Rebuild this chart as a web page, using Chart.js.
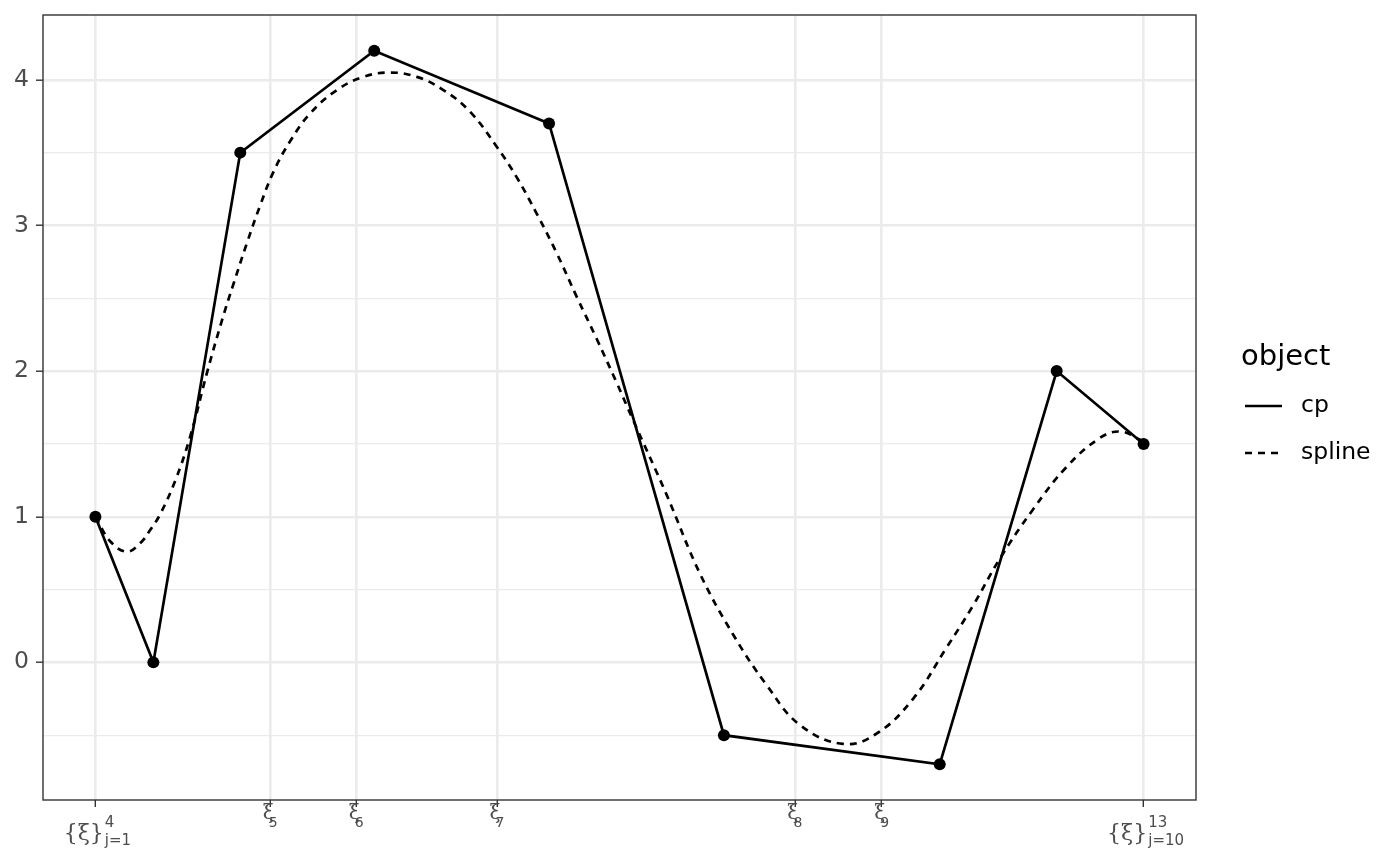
<!DOCTYPE html>
<html>
<head>
<meta charset="utf-8">
<script src="https://cdn.jsdelivr.net/npm/chart.js@4.4.1/dist/chart.umd.min.js"></script>
<style>
  html, body { margin: 0; padding: 0; background: #fff; }
  #wrap { width: 1400px; height: 866px; }
</style>
</head>
<body>
<div id="wrap"><canvas id="chart" width="1400" height="866"></canvas></div>
<script>
// control polygon
const cpX = [0, 0.0553, 0.1382, 0.2660, 0.4328, 0.5996, 0.8055, 0.9171, 1];
const cpY = [1, 0, 3.5, 4.2, 3.7, -0.5, -0.7, 2, 1.5];

// spline curve
const splineX = [0, 0.0143, 0.0302, 0.0429, 0.0524, 0.0620, 0.0763, 0.0906, 0.1065, 0.1208,
  0.1318, 0.1446, 0.1573, 0.1700, 0.1859, 0.2050, 0.2304, 0.2558, 0.2812, 0.3067,
  0.3320, 0.3575, 0.3829, 0.4020, 0.4211, 0.4401, 0.4592, 0.4783, 0.4973, 0.5132,
  0.5450, 0.5767, 0.6085, 0.6403, 0.6721, 0.7133, 0.7452, 0.7801, 0.8119, 0.8373,
  0.8627, 0.8945, 0.9263, 0.9581, 0.9771, 0.9962, 1];
const splineY = [1.0, 0.83, 0.76, 0.82, 0.91, 1.02, 1.25, 1.555, 1.99, 2.35,
  2.60, 2.88, 3.14, 3.37, 3.58, 3.77, 3.93, 4.02, 4.05, 4.02,
  3.93, 3.78, 3.54, 3.33, 3.08, 2.81, 2.51, 2.22, 1.92, 1.66,
  1.15, 0.61, 0.19, -0.155, -0.43, -0.56, -0.49, -0.25, 0.10, 0.39,
  0.71, 1.05, 1.34, 1.54, 1.585, 1.53, 1.5];

// knots on the x axis
const knotPos = [0, 0.1668, 0.2488, 0.3832, 0.6673, 0.7502, 1];
const knotBase = ['{ξ}', 'ξ', 'ξ', 'ξ', 'ξ', 'ξ', '{ξ}'];
const knotSup = ['4', '', '', '', '', '', '13'];
const knotSub = ['j=1', '5', '6', '7', '8', '9', 'j=10'];

// y axis
const yTicks = [-0.5, 0, 0.5, 1, 1.5, 2, 2.5, 3, 3.5, 4];

const seriesNames = ['cp', 'spline'];
const legendTitle = 'object';

const toPoints = (xs, ys) => xs.map((x, i) => ({ x: x, y: ys[i] }));
const isMajor = v => Number.isInteger(v);

// panel border, knot labels and legend
const decor = {
    id: 'decor',
    afterDraw(chart) {
        const ctx = chart.ctx;
        const a = chart.chartArea;
        const xs = chart.scales.x;
        ctx.save();
        ctx.strokeStyle = '#333333';
        ctx.lineWidth = 1.4;
        ctx.strokeRect(a.left, a.top, a.right - a.left, a.bottom - a.top);

        ctx.fillStyle = '#4d4d4d';
        ctx.textBaseline = 'alphabetic';
        knotPos.forEach((v, i) => {
            const px = xs.getPixelForValue(v);
            if (knotSup[i]) {
                ctx.font = '22px "DejaVu Serif"';
                const wb = ctx.measureText(knotBase[i]).width;
                ctx.font = '15px "DejaVu Sans"';
                const ws = Math.max(ctx.measureText(knotSup[i]).width, ctx.measureText(knotSub[i]).width);
                const start = px - (wb + 1 + ws) / 2 + 2;
                ctx.textAlign = 'left';
                ctx.font = '22px "DejaVu Serif"';
                ctx.fillText(knotBase[i], start, 840);
                ctx.font = '15px "DejaVu Sans"';
                ctx.fillText(knotSup[i], start + wb + 1, 827);
                ctx.fillText(knotSub[i], start + wb + 1, 845);
            } else {
                ctx.textAlign = 'center';
                ctx.font = '20px "DejaVu Serif"';
                ctx.fillText(knotBase[i], px - 2, 819);
                ctx.font = '14px "DejaVu Sans"';
                ctx.fillText(knotSub[i], px + 3, 827);
            }
        });

        // legend
        ctx.fillStyle = '#000';
        ctx.textAlign = 'left';
        ctx.font = '29px "DejaVu Sans"';
        ctx.fillText(legendTitle, 1241, 365);
        ctx.font = '23.5px "DejaVu Sans"';
        ctx.textBaseline = 'middle';
        chart.data.datasets.forEach((ds, i) => {
            const y = 406 + i * 47;
            ctx.strokeStyle = ds.borderColor;
            ctx.lineWidth = ds.borderWidth;
            ctx.setLineDash(ds.borderDash || []);
            ctx.beginPath();
            ctx.moveTo(1245, y);
            ctx.lineTo(1282, y);
            ctx.stroke();
            ctx.setLineDash([]);
            ctx.fillText(ds.label, 1301, y);
        });
        ctx.restore();
    }
};

const ctx = document.getElementById('chart').getContext('2d');
const chart = new Chart(ctx, {
    type: 'line',
    data: {
        datasets: [{
            label: seriesNames[0],
            data: toPoints(cpX, cpY),
            borderColor: '#000',
            backgroundColor: '#000',
            borderWidth: 2.7,
            pointRadius: 6,
            pointBorderWidth: 0,
            tension: 0
        }, {
            label: seriesNames[1],
            data: toPoints(splineX, splineY),
            borderColor: '#000',
            borderWidth: 2.7,
            borderDash: [7, 6],
            pointRadius: 0,
            tension: 0.4
        }]
    },
    options: {
        responsive: false,
        animation: false,
        devicePixelRatio: 1,
        layout: { padding: { top: 15, right: 204, bottom: 0, left: 0 } },
        plugins: {
            legend: { display: false },
            tooltip: { enabled: false }
        },
        scales: {
            x: {
                type: 'linear',
                min: -0.05,
                max: 1.05,
                afterBuildTicks: s => { s.ticks = knotPos.map(v => ({ value: v })); },
                afterFit: s => { s.height = 66; s.paddingLeft = 0; s.paddingRight = 0; },
                ticks: { display: false },
                grid: { color: '#ebebeb', lineWidth: 2.6, tickLength: 7, tickColor: '#333333', tickWidth: 1.4 },
                border: { display: false }
            },
            y: {
                type: 'linear',
                min: -0.945,
                max: 4.445,
                afterBuildTicks: s => { s.ticks = yTicks.map(v => ({ value: v })); },
                afterFit: s => { s.width = 43; s.paddingTop = 0; s.paddingBottom = 0; },
                ticks: {
                    color: '#4d4d4d',
                    font: { family: 'DejaVu Sans', size: 23.5 },
                    padding: 7,
                    callback: v => isMajor(v) ? String(v) : ''
                },
                grid: {
                    color: '#ebebeb',
                    lineWidth: c => isMajor(c.tick.value) ? 2.4 : 1.2,
                    tickLength: 7,
                    tickColor: c => isMajor(c.tick.value) ? '#333333' : 'rgba(0,0,0,0)',
                    tickWidth: 1.4
                },
                border: { display: false }
            }
        }
    },
    plugins: [decor]
});
</script>
</body>
</html>
